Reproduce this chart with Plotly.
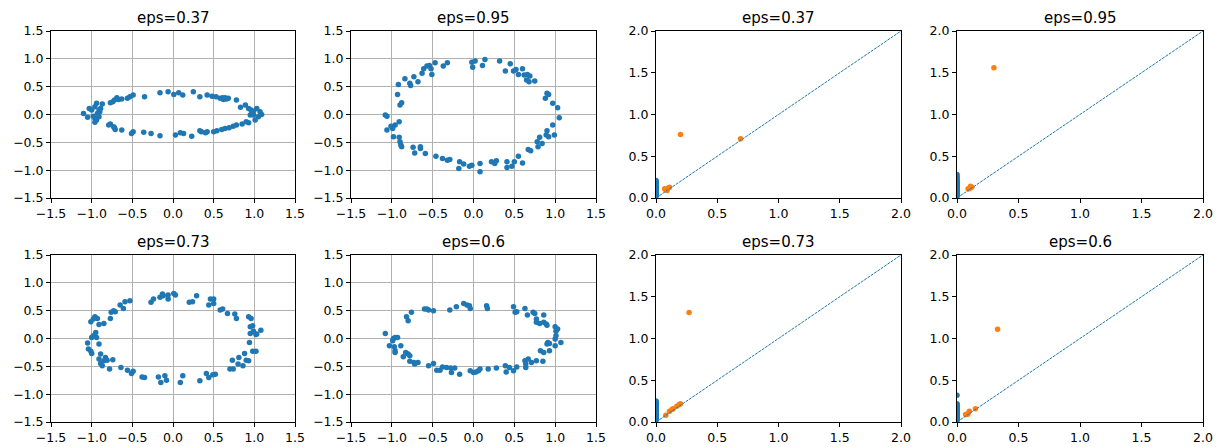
import plotly.graph_objects as go

# ---------------- data ----------------
titles = ["eps=0.37", "eps=0.95", "eps=0.73", "eps=0.6"]

# point clouds
x_037 = [-1.10, -1.05, -1.03, -1.00, -0.96, -0.94, -0.93, -0.96, -0.96, -0.94, -0.91, -0.89, -0.91, -0.87,
         -0.77, -0.74, -0.72, -0.69, -0.67, -0.63, -0.56, -0.53, -0.49, -0.35, -0.16, -0.06, 0.01, 0.07,
         0.12, 0.25, 0.33, 0.42, 0.48, 0.53, 0.58, 0.62, 0.64, 0.68, 0.78, 0.83, 0.89, 0.93, 0.96, 0.95,
         0.99, 1.03, 1.07, 1.09, 1.05, 1.01, 0.93, 0.90, 0.85, 0.78, 0.74, 0.69, 0.64, 0.60, 0.54, 0.50,
         0.42, 0.35, 0.33, 0.23, 0.13, 0.09, 0.03, -0.16, -0.27, -0.36, -0.49, -0.51, -0.63, -0.71, -0.73,
         -0.77, -0.79, -0.98, -0.90, 0.97, 0.99, 0.61, 0.66, 0.40, -0.72]
y_037 = [0.02, -0.05, 0.11, 0.08, 0.14, 0.20, 0.02, -0.07, -0.14, -0.10, -0.04, 0.11, 0.08, 0.19,
         0.21, 0.23, 0.26, 0.30, 0.27, 0.28, 0.29, 0.32, 0.35, 0.32, 0.39, 0.41, 0.36, 0.39,
         0.35, 0.41, 0.32, 0.35, 0.33, 0.32, 0.29, 0.27, 0.30, 0.29, 0.26, 0.13, 0.17, 0.11, 0.08, -0.01,
         -0.01, 0.11, 0.05, 0.00, -0.04, -0.10, -0.15, -0.13, -0.17, -0.19, -0.21, -0.24, -0.25, -0.27, -0.29, -0.31,
         -0.31, -0.31, -0.29, -0.39, -0.34, -0.33, -0.37, -0.38, -0.34, -0.32, -0.31, -0.34, -0.28, -0.27, -0.22,
         -0.17, -0.19, -0.03, 0.05, 0.02, 0.06, 0.30, 0.28, -0.33, -0.24]

x_095 = [-1.08, -1.06, -1.06, -1.01, -0.99, -0.96, -0.98, -0.91, -0.90, -0.89, -0.88, -0.91, -0.93, -0.90,
         -0.88, -0.92, -0.84, -0.78, -0.77, -0.73, -0.68, -0.63, -0.61, -0.57, -0.54, -0.52, -0.51, -0.47,
         -0.37, -0.32, -0.02, -0.01, 0.02, 0.11, 0.14, 0.32, 0.39, 0.45, 0.49, 0.52, 0.55, 0.60, 0.62,
         0.66, 0.69, 0.65, 0.68, 0.75, 0.90, 0.88, 0.92, 0.97, 1.03, 1.05, 0.97, 0.99, 0.90, 0.89, 0.92,
         0.81, 0.78, 0.84, 0.79, 0.67, 0.70, 0.60, 0.55, 0.50, 0.47, 0.41, 0.41, 0.28, 0.26, 0.22, 0.08,
         0.08, -0.02, -0.05, -0.12, -0.17, -0.18, -0.29, -0.32, -0.38, -0.46, -0.59, -0.65, -0.65, -0.72, -0.74]
y_095 = [-0.01, -0.03, -0.28, -0.21, -0.25, -0.19, -0.40, -0.41, -0.49, -0.55, -0.58, -0.13, 0.36, 0.17,
         0.21, 0.54, 0.64, 0.56, 0.52, 0.68, 0.59, 0.74, 0.82, 0.87, 0.88, 0.82, 0.72, 0.93,
         0.87, 0.93, 0.94, 0.85, 0.96, 0.88, 0.99, 0.96, 0.78, 0.91, 0.78, 0.81, 0.72, 0.82, 0.71,
         0.72, 0.69, 0.62, 0.59, 0.60, 0.38, 0.29, 0.36, 0.20, 0.12, -0.06, -0.19, -0.37, -0.29, -0.37, -0.40,
         -0.41, -0.49, -0.52, -0.58, -0.63, -0.65, -0.87, -0.75, -0.85, -0.93, -0.85, -0.95, -0.83, -0.88, -0.85, -0.88,
         -1.03, -0.91, -0.93, -0.89, -0.85, -0.97, -0.81, -0.82, -0.79, -0.75, -0.70, -0.61, -0.58, -0.69, -0.59]

x_073 = [-1.05, -1.04, -1.01, -1.00, -1.00, -0.98, -0.95, -0.94, -0.91, -1.01, -0.98, -0.96, -0.93, -0.91,
         -0.85, -0.89, -0.91, -0.89, -0.87, -0.85, -0.83, -0.81, -0.74, -0.78, -0.77, -0.76, -0.73, -0.71,
         -0.65, -0.61, -0.59, -0.53, -0.64, -0.56, -0.51, -0.49, -0.38, -0.35, -0.27, -0.24, -0.16, -0.13,
         -0.12, -0.06, -0.06, 0.01, 0.03, -0.18, -0.15, -0.10, -0.08, 0.09, 0.12, 0.20, 0.24, 0.29, 0.33,
         0.41, 0.44, 0.46, 0.50, 0.44, 0.50, 0.49, 0.52, 0.58, 0.61, 0.67, 0.76, 0.78, 0.70, 0.73, 0.74,
         0.80, 0.81, 0.86, 0.88, 0.90, 0.93, 0.93, 0.96, 0.95, 0.98, 0.95, 0.99, 1.02, 0.94, 1.03, 1.08,
         0.98, 1.02]
y_073 = [-0.08, -0.19, -0.23, -0.27, 0.02, 0.05, 0.11, 0.02, -0.10, 0.30, 0.35, 0.39, 0.36, 0.25,
         0.27, -0.28, -0.37, -0.45, -0.49, -0.40, -0.34, -0.39, -0.38, -0.55, 0.36, 0.47, 0.50, 0.48,
         0.60, 0.54, 0.66, 0.68, -0.52, -0.57, -0.63, -0.59, -0.69, -0.70, 0.65, 0.71, 0.74, 0.80,
         0.77, 0.71, 0.78, 0.81, 0.78, -0.69, -0.79, -0.67, -0.75, -0.79, -0.67, 0.65, 0.66, 0.77, -0.76,
         -0.63, -0.70, 0.71, 0.71, 0.60, 0.63, -0.65, -0.64, 0.51, 0.53, 0.45, 0.44, 0.36, -0.55, -0.39, -0.55,
         -0.46, -0.34, -0.49, -0.27, -0.39, -0.40, 0.39, 0.36, 0.21, 0.23, 0.09, 0.13, 0.07, -0.07, 0.08, 0.15,
         -0.23, -0.23]

x_06 = [-1.08, -1.03, -0.98, -0.99, -0.96, -0.93, -0.97, -0.96, -0.96, -0.89, -0.86, -0.83, -0.80, -0.78,
        -0.78, -0.73, -0.72, -0.68, -0.82, -0.80, -0.76, -0.60, -0.57, -0.55, -0.49, -0.55, -0.49, -0.45,
        -0.41, -0.38, -0.33, -0.28, -0.27, -0.23, -0.17, -0.29, -0.21, -0.12, -0.08, -0.05, -0.04, -0.04,
        0.00, 0.03, 0.06, 0.08, 0.16, 0.17, 0.18, 0.28, 0.39, 0.40, 0.44, 0.49, 0.53, 0.49, 0.51, 0.53,
        0.63, 0.66, 0.63, 0.64, 0.64, 0.67, 0.71, 0.73, 0.75, 0.77, 0.85, 0.77, 0.77, 0.81, 0.86, 0.86,
        0.89, 0.90, 0.82, 0.86, 0.93, 0.90, 0.91, 0.93, 1.00, 1.01, 1.03, 1.00, 1.01, 1.07, 1.00]
y_06 = [0.09, -0.13, 0.00, -0.04, 0.02, 0.02, -0.15, -0.22, -0.25, -0.13, -0.33, -0.25, -0.28, -0.31,
        -0.41, -0.43, -0.46, -0.43, 0.39, 0.32, 0.47, 0.53, 0.53, 0.51, 0.50, -0.49, -0.45, -0.57,
        -0.57, -0.51, -0.52, -0.53, -0.61, -0.53, -0.64, 0.51, 0.57, 0.63, 0.60, 0.59, 0.54, -0.58,
        -0.61, -0.60, -0.58, -0.55, 0.59, 0.54, -0.55, -0.53, -0.49, -0.60, -0.52, -0.58, -0.51, 0.57, 0.47, 0.48,
        0.54, 0.42, -0.40, -0.46, -0.52, -0.37, -0.43, 0.47, 0.45, -0.40, -0.41, 0.35, 0.29, 0.27, 0.42, 0.29,
        0.26, 0.24, -0.22, -0.25, -0.22, -0.10, -0.07, -0.09, 0.21, 0.13, 0.17, -0.01, 0.05, -0.07, -0.13]

# persistence diagrams: H0 deaths (births at 0) and H1 (birth, death)
h0_037 = [0.02, 0.03, 0.03, 0.04, 0.04, 0.05, 0.05, 0.06, 0.06, 0.07, 0.07, 0.08, 0.08, 0.09, 0.09, 0.10,
          0.10, 0.11, 0.12, 0.12, 0.13, 0.14, 0.15, 0.16, 0.17, 0.18, 0.19, 0.20, 0.21]
h1b_037 = [0.20, 0.69, 0.07, 0.09, 0.10, 0.11, 0.08]
h1d_037 = [0.76, 0.71, 0.11, 0.09, 0.12, 0.13, 0.10]

h0_095 = [0.02, 0.03, 0.04, 0.05, 0.05, 0.06, 0.07, 0.07, 0.08, 0.09, 0.10, 0.10, 0.11, 0.12, 0.13, 0.14,
          0.15, 0.16, 0.17, 0.18, 0.19, 0.20, 0.21, 0.22, 0.24, 0.26, 0.28]
h1b_095 = [0.30, 0.09, 0.11, 0.10, 0.12]
h1d_095 = [1.56, 0.11, 0.14, 0.11, 0.13]

h0_073 = [0.02, 0.03, 0.04, 0.05, 0.05, 0.06, 0.07, 0.07, 0.08, 0.09, 0.10, 0.10, 0.11, 0.12, 0.13, 0.14,
          0.15, 0.16, 0.17, 0.18, 0.19, 0.20, 0.21, 0.22, 0.23, 0.24, 0.25]
h1b_073 = [0.27, 0.08, 0.11, 0.13, 0.14, 0.17, 0.20, 0.19]
h1d_073 = [1.31, 0.08, 0.13, 0.15, 0.16, 0.19, 0.22, 0.21]

h0_06 = [0.02, 0.03, 0.04, 0.05, 0.05, 0.06, 0.07, 0.07, 0.08, 0.09, 0.10, 0.10, 0.11, 0.12, 0.13, 0.14,
         0.15, 0.16, 0.17, 0.18, 0.19, 0.20, 0.21, 0.22, 0.32]
h1b_06 = [0.33, 0.07, 0.09, 0.10, 0.15, 0.08]
h1d_06 = [1.11, 0.09, 0.10, 0.13, 0.16, 0.09]

diag = [0, 2]

left_ticks = [-1.5, -1.0, -0.5, 0.0, 0.5, 1.0, 1.5]
left_ticktext = ["\u22121.5", "\u22121.0", "\u22120.5", "0.0", "0.5", "1.0", "1.5"]
right_ticks = [0.0, 0.5, 1.0, 1.5, 2.0]
right_ticktext = ["0.0", "0.5", "1.0", "1.5", "2.0"]

# ---------------- layout helpers ----------------
# the page places the figure 8 px in from the top-left corner, so the figure is
# made 16/8 px smaller and the panel boxes (given in window pixels) shifted back.
OFF = 8
W, H = 1224 - OFF, 447 - OFF
col_px = [(51, 295), (351, 596), (656, 901), (957, 1203)]
row_px = [(31, 198), (255, 422)]
BLUE = "#1f77b4"
ORANGE = "#ff7f0e"
FONT = "DejaVu Sans"
TICK_SIZE = 12.5
TITLE_SIZE = 15

clouds = [(x_037, y_037), (x_095, y_095), (x_073, y_073), (x_06, y_06)]
diagrams = [(h0_037, h1b_037, h1d_037), (h0_095, h1b_095, h1d_095),
            (h0_073, h1b_073, h1d_073), (h0_06, h1b_06, h1d_06)]

fig = go.Figure()
layout = dict(width=W, height=H, autosize=False, margin=dict(l=0, r=0, t=0, b=0, pad=0),
              paper_bgcolor="white", plot_bgcolor="white", showlegend=False,
              font=dict(family=FONT, size=TICK_SIZE, color="black"))
annotations = []

panels = []
for r in range(2):
    for c in range(4):
        eps_i = r * 2 + (c % 2)
        panels.append((r, c, eps_i))

for k, (r, c, ei) in enumerate(panels):
    n = k + 1
    xa = "x" if n == 1 else f"x{n}"
    ya = "y" if n == 1 else f"y{n}"
    xkey = "xaxis" if n == 1 else f"xaxis{n}"
    ykey = "yaxis" if n == 1 else f"yaxis{n}"
    x0, x1 = col_px[c]
    t0, t1 = row_px[r]
    xdom = [(x0 - OFF) / W, (x1 - OFF) / W]
    ydom = [1 - (t1 - OFF) / H, 1 - (t0 - OFF) / H]
    left = c < 2
    common = dict(showline=True, linecolor="black", linewidth=1, mirror=True,
                  ticks="outside", ticklen=4, tickwidth=1, tickcolor="black",
                  zeroline=False, automargin=False,
                  tickfont=dict(family=FONT, size=TICK_SIZE, color="black"),
                  fixedrange=True)
    if left:
        rng = [-1.5, 1.5]
        tv, tt = left_ticks, left_ticktext
        grid = dict(showgrid=True, gridcolor="#b0b0b0", gridwidth=1)
    else:
        rng = [0, 2]
        tv, tt = right_ticks, right_ticktext
        grid = dict(showgrid=False)
    layout[xkey] = dict(domain=xdom, range=rng, anchor=ya, tickvals=tv, ticktext=tt, **grid, **common)
    layout[ykey] = dict(domain=ydom, range=rng, anchor=xa, tickvals=tv, ticktext=tt, **grid, **common)

    if left:
        xs, ys = clouds[ei]
        fig.add_trace(go.Scatter(x=xs, y=ys, mode="markers", xaxis=xa, yaxis=ya,
                                 marker=dict(color=BLUE, size=5.5, line=dict(width=0))))
    else:
        h0, h1b, h1d = diagrams[ei]
        fig.add_trace(go.Scatter(x=[0] * len(h0), y=h0, mode="markers", xaxis=xa, yaxis=ya,
                                 marker=dict(color=BLUE, size=5.5, line=dict(width=0))))
        fig.add_trace(go.Scatter(x=h1b, y=h1d, mode="markers", xaxis=xa, yaxis=ya,
                                 marker=dict(color=ORANGE, size=5.5, line=dict(width=0))))
        fig.add_trace(go.Scatter(x=diag, y=diag, mode="lines", xaxis=xa, yaxis=ya,
                                 line=dict(color=BLUE, width=1, dash="3px,1px")))

    annotations.append(dict(text=titles[ei], x=(xdom[0] + xdom[1]) / 2, y=ydom[1],
                            xref="paper", yref="paper", xanchor="center", yanchor="bottom",
                            yshift=2, showarrow=False,
                            font=dict(family=FONT, size=TITLE_SIZE, color="black")))

layout["annotations"] = annotations
fig.update_layout(**layout)
fig.write_html("out.html")
